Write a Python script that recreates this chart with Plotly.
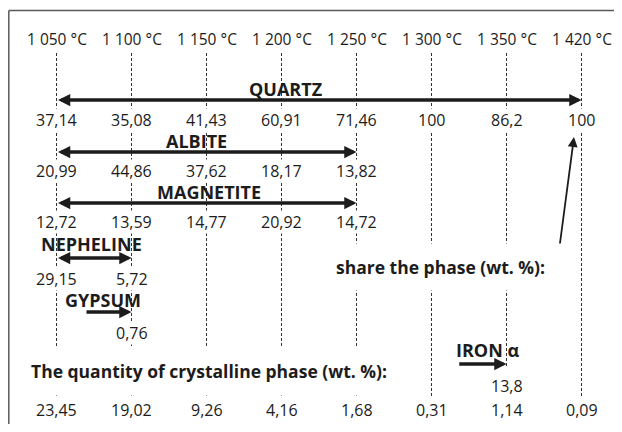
import plotly.graph_objects as go

# ---------------- data ----------------
TEMPS = ["1 050 °C", "1 100 °C", "1 150 °C", "1 200 °C",
         "1 250 °C", "1 300 °C", "1 350 °C", "1 420 °C"]
QUARTZ = [37.14, 35.08, 41.43, 60.91, 71.46, 100, 86.2, 100]
ALBITE = [20.99, 44.86, 37.62, 18.17, 13.82]
MAGNETITE = [12.72, 13.59, 14.77, 20.92, 14.72]
NEPHELINE = [29.15, 5.72]
GYPSUM = [0.76]          # appears at 1 100 °C
IRON_ALPHA = [13.8]      # appears at 1 350 °C
CRYSTALLINE = [23.45, 19.02, 9.26, 4.16, 1.68, 0.31, 1.14, 0.09]

# page is 622x432; the browser body adds an 8px margin
PAGE_W, PAGE_H = 622, 432
OFF = 8
W, H = PAGE_W - OFF, PAGE_H - 2 * OFF
PX_PER_COL = 75.0
X0_PX = 56.5  # page pixel of first column


def px2x(px):
    return (px - X0_PX) / PX_PER_COL


def fmt(v):
    return f"{v:g}".replace(".", ",")


INK = "#1c1c1c"
FONT = "Open Sans"
LABEL_SIZE = 18

fig = go.Figure()
fig.add_trace(go.Scatter(x=[0], y=[100], mode="markers",
                         marker=dict(opacity=0), hoverinfo="skip",
                         showlegend=False))

ann = []
shapes = []

# frame (top and left)
shapes.append(dict(type="line", xref="paper", yref="y",
                   x0=0.8 / W, x1=1.0, y0=10.5, y1=10.5,
                   line=dict(color="#5a5a5a", width=1.5)))
shapes.append(dict(type="line", xref="paper", yref="y",
                   x0=0.8 / W, x1=0.8 / W, y0=10.5, y1=440,
                   line=dict(color="#5a5a5a", width=1.5)))

# dashed column guides
n = len(TEMPS)
for i in range(n):
    y_end = 366 if i == 6 else 398
    shapes.append(dict(type="line", xref="x", yref="y",
                       x0=i, x1=i, y0=53, y1=y_end, layer="below",
                       line=dict(color="#333333", width=1, dash="3px,2px")))

# temperature labels
for i, t in enumerate(TEMPS):
    ann.append(dict(x=i, y=39, text=t, showarrow=False,
                    font=dict(family=FONT, size=15.5, color=INK)))


def values_row(vals, start, y):
    for k, v in enumerate(vals):
        ann.append(dict(x=start + k, y=y, text=fmt(v), showarrow=False,
                        bgcolor="white", borderpad=0,
                        font=dict(family=FONT, size=16, color=INK)))


def label(text, xpx, y, size=LABEL_SIZE):
    ann.append(dict(x=px2x(xpx), y=y, text=f"<b>{text}</b>", showarrow=False,
                    font=dict(family=FONT, size=size, color=INK)))


def arrow(x_head, x_tail, y, both=False, width=3.5, size=0.7):
    ann.append(dict(x=x_head, y=y, ax=x_tail, ay=y, axref="x", ayref="y",
                    xref="x", yref="y", text="", showarrow=True,
                    arrowhead=2, startarrowhead=2, arrowsize=size,
                    startarrowsize=size, arrowwidth=width, arrowcolor=INK,
                    arrowside="end+start" if both else "end"))


# QUARTZ
label("QUARTZ", 285, 89)
arrow(len(QUARTZ) - 1, 0, 100, both=True)
values_row(QUARTZ, 0, 120)

# ALBITE
label("ALBITE", 196, 141)
arrow(len(ALBITE) - 1, 0, 152, both=True)
values_row(ALBITE, 0, 171)

# MAGNETITE
label("MAGNETITE", 209, 192)
arrow(len(MAGNETITE) - 1, 0, 203, both=True)
values_row(MAGNETITE, 0, 222)

# NEPHELINE
label("NEPHELINE", 91, 244)
arrow(len(NEPHELINE) - 1, 0, 258, both=True)
values_row(NEPHELINE, 0, 279)

# GYPSUM (starts at 1 100 °C)
label("GYPSUM", 103, 300)
arrow(1, 1 - 0.62, 312)
values_row(GYPSUM, 1, 333)

# IRON alpha (appears at 1 350 °C)
label("IRON α", 487, 350)
arrow(6, 6 - 0.65, 364)
values_row(IRON_ALPHA, 6, 386)

# share the phase
ann.append(dict(x=px2x(440), y=267, text="<b>share the phase (wt. %):</b>",
                showarrow=False, bgcolor="white", borderpad=11,
                font=dict(family=FONT, size=17.5, color=INK)))
ann.append(dict(x=7 - 0.1, y=137, ax=7 - 0.29, ay=245, axref="x", ayref="y",
                xref="x", yref="y", text="", showarrow=True, arrowhead=2,
                arrowsize=1.1, arrowwidth=1.8, arrowcolor=INK))

# crystalline quantity
ann.append(dict(x=px2x(209), y=371,
                text="<b>The quantity of crystalline phase (wt. %):</b>",
                showarrow=False, bgcolor="white", borderpad=12,
                font=dict(family=FONT, size=17.5, color=INK)))
values_row(CRYSTALLINE, 0, 410)

fig.update_layout(
    width=W, height=H, margin=dict(l=0, r=0, t=0, b=0),
    paper_bgcolor="white", plot_bgcolor="white", showlegend=False,
    xaxis=dict(range=[px2x(OFF), px2x(PAGE_W)], visible=False,
               fixedrange=True),
    yaxis=dict(range=[OFF + H, OFF], visible=False, fixedrange=True),
    annotations=ann, shapes=shapes,
)

fig.write_html("out.html")
